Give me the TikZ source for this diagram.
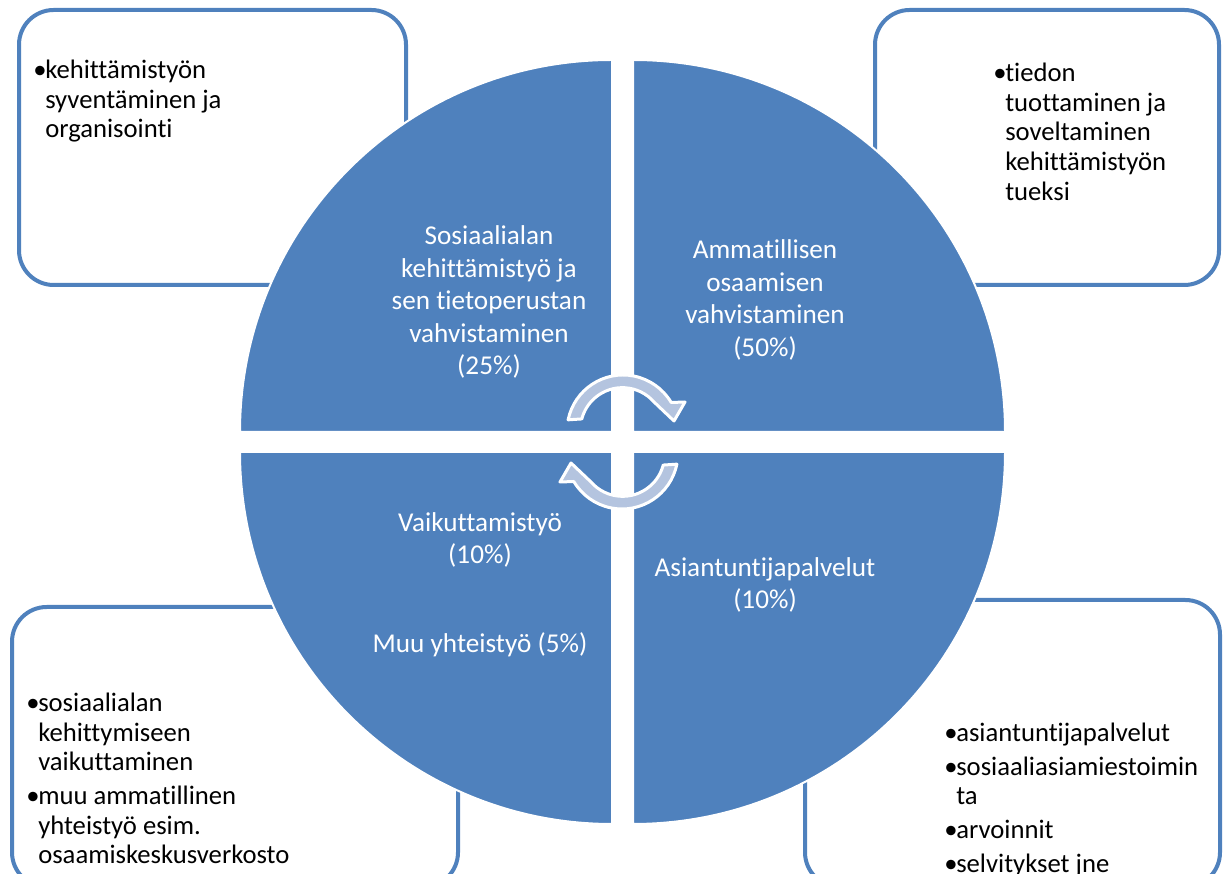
\documentclass[tikz,border=0pt]{standalone}
\usepackage{fontspec}
\setmainfont{Carlito}[Ligatures=NoCommon]
\definecolor{quadblue}{RGB}{79,129,189}
\definecolor{arrowgray}{RGB}{180,196,223}
\tikzset{
  quad/.style={fill=quadblue, draw=white, line width=1.5pt},
  sidebox/.style={draw=quadblue, line width=3pt, rounded corners=26pt, fill=white},
  quadtext/.style={text=white, align=center, font=\fontsize{20.4}{24.4}\selectfont, inner sep=0pt},
  boxtext/.style={text=black, align=left, font=\fontsize{20}{22.2}\selectfont, inner sep=0pt, anchor=north west},
  turnarrow/.style={fill=arrowgray, draw=white, line width=2.25pt, line join=round},
}
\newcommand{\bul}{\makebox[9pt][l]{\textbullet}}
\newcommand{\ind}{\hspace*{9pt}}
\begin{document}
\begin{tikzpicture}[x=0.75pt, y=0.75pt]
	\useasboundingbox (0,0) rectangle (1224,874);
	\clip (0,0) rectangle (1224,874);
	% side boxes
	\draw[sidebox] (19,589) rectangle (406,864);
	\draw[sidebox] (875,589) rectangle (1219,864);
	\draw[sidebox] (12,-13) rectangle (458,267);
	\draw[sidebox] (805,-13) rectangle (1220,274);
	% quarter circles
	\path[quad] (612,442) -- ++(180:372) arc[start angle=180, end angle=90, radius=372] -- cycle;
	\path[quad] (633,442) -- ++(90:372) arc[start angle=90, end angle=0, radius=372] -- cycle;
	\path[quad] (612,422) -- ++(270:372) arc[start angle=270, end angle=180, radius=372] -- cycle;
	\path[quad] (633,422) -- ++(0:372) arc[start angle=0, end angle=-90, radius=372] -- cycle;
	% turning arrows
	\foreach \turn in {0,180}
		\path[turnarrow, rotate around={\turn:(622.5,432)}]
			([shift={(623,443)}]168.5:56) arc[start angle=168.5, end angle=30.6, radius=56]
			-- (685,472) -- (674,453) -- (654,472)
			arc[start angle=41.2, end angle=165.2, radius=42] -- cycle;
	% quadrant labels
	\node[quadtext] (social) at (489,572) {Sosiaalialan\\kehittämistyö ja\\sen tietoperustan\\vahvistaminen\\(25\%)};
	\node[quadtext] (skills) at (765,574) {Ammatillisen\\osaamisen\\vahvistaminen\\(50\%)};
	\node[quadtext] (influence) at (480,334) {Vaikuttamistyö\\(10\%)};
	\node[quadtext] (other) at (480,229) {Muu yhteistyö (5\%)};
	\node[quadtext] (expert) at (765,289) {Asiantuntijapalvelut\\(10\%)};
	% box texts
	\node[boxtext] (devwork) at (33,814) {\bul kehittämistyön\\\ind syventäminen ja\\\ind organisointi};
	\node[boxtext] (research) at (993,811) {\bul tiedon\\\ind tuottaminen ja\\\ind soveltaminen\\\ind kehittämistyön\\\ind tueksi};
	\node[boxtext] (advocacy) at (26,181) {\bul sosiaalialan\\\ind kehittymiseen\\\ind vaikuttaminen\\[3pt]\bul muu ammatillinen\\\ind yhteistyö esim.\\\ind osaamiskeskusverkosto};
	\node[boxtext] (services) at (944,151) {\bul asiantuntijapalvelut\\[3pt]\bul sosiaaliasiamiestoimin\\\ind ta\\[3pt]\bul arvoinnit\\[3pt]\bul selvitykset jne};
\end{tikzpicture}
\end{document}
